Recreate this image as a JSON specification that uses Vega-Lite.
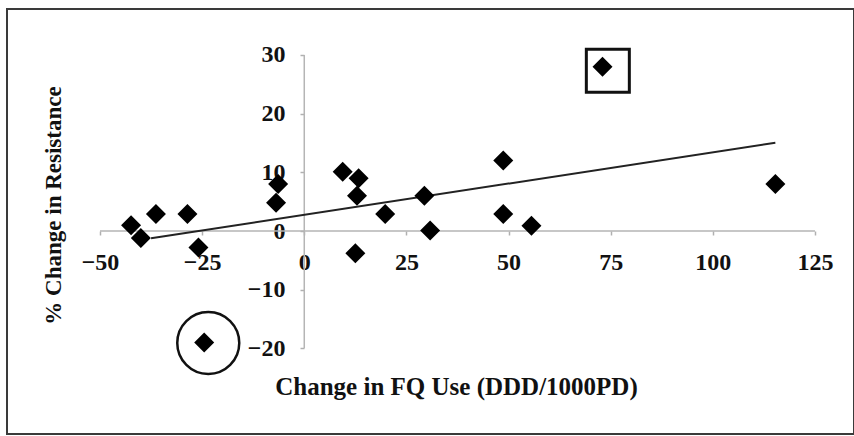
{
  "$schema": "https://vega.github.io/schema/vega-lite/v6.json",
  "width": 847,
  "height": 425,
  "autosize": "none",
  "padding": {"left": 7, "top": 9, "right": 0, "bottom": 2},
  "background": "white",
  "config": {
    "view": {"stroke": "#3a3a3a", "strokeWidth": 2},
    "axis": {
      "domain": false,
      "grid": false,
      "labelFont": "Liberation Serif",
      "labelFontWeight": "bold",
      "labelFontSize": 24,
      "labelColor": "#111111",
      "titleFont": "Liberation Serif",
      "titleFontWeight": "bold",
      "titleFontSize": 24,
      "titleColor": "#111111",
      "tickColor": "#b0b0b0",
      "tickSize": 4,
      "tickWidth": 1.5,
      "labelOverlap": false,
      "labelFlush": false
    }
  },
  "datasets": {
    "points": [
      {"x": -42.4, "y": 1.0},
      {"x": -40.0, "y": -1.2},
      {"x": -36.3, "y": 2.9},
      {"x": -28.6, "y": 2.9},
      {"x": -25.9, "y": -2.8},
      {"x": -24.5, "y": -19.0},
      {"x": -6.9, "y": 4.8},
      {"x": -6.4, "y": 8.0},
      {"x": 9.4, "y": 10.1},
      {"x": 13.3, "y": 9.0},
      {"x": 12.9, "y": 6.0},
      {"x": 12.5, "y": -3.8},
      {"x": 19.8, "y": 2.9},
      {"x": 29.4, "y": 6.0},
      {"x": 30.8, "y": 0.1},
      {"x": 48.7, "y": 12.0},
      {"x": 48.7, "y": 2.9},
      {"x": 55.6, "y": 0.9},
      {"x": 73.0, "y": 28.0},
      {"x": 115.3, "y": 8.0}
    ],
    "trend": [
      {"x": -37.5, "y": -1.25},
      {"x": 115.3, "y": 15.05}
    ],
    "axislines": [
      {"x": -50, "x2": 125, "y": 0, "y2": 0},
      {"x": 0, "x2": 0, "y": -20, "y2": 30}
    ],
    "highlights": [
      {"kind": "circle", "x": -23.5, "y": -19.1},
      {"kind": "square", "x": 74.3, "y": 27.3}
    ]
  },
  "encoding": {
    "x": {
      "field": "x",
      "type": "quantitative",
      "scale": {"domain": [-72.76, 134.55], "nice": false, "zero": false},
      "axis": {
        "offset": -203,
        "values": [-50, -25, 0, 25, 50, 75, 100, 125],
        "labelPadding": 15,
        "title": "Change in FQ Use (DDD/1000PD)",
        "titleFontSize": 25,
        "titleX": 449,
        "titleY": 155,
        "titleBaseline": "middle"
      }
    },
    "y": {
      "field": "y",
      "type": "quantitative",
      "scale": {"domain": [-34.6, 37.84], "nice": false, "zero": false},
      "axis": {
        "offset": -297,
        "values": [-20, -10, 0, 10, 20, 30],
        "labelPadding": 15,
        "title": "% Change in Resistance",
        "titleFontSize": 23,
        "titleX": -251,
        "titleY": 196,
        "titleAngle": -90,
        "titleBaseline": "middle",
        "titleAlign": "center"
      }
    }
  },
  "layer": [
    {
      "data": {"name": "axislines"},
      "mark": {"type": "rule", "color": "#b5b5b5", "strokeWidth": 1.5},
      "encoding": {
        "x2": {"field": "x2"},
        "y2": {"field": "y2"}
      }
    },
    {
      "data": {"name": "trend"},
      "mark": {"type": "line", "color": "#222222", "strokeWidth": 2}
    },
    {
      "data": {"name": "points"},
      "mark": {"type": "point", "shape": "diamond", "filled": true, "color": "#000000", "size": 400, "opacity": 1}
    },
    {
      "data": {"name": "highlights"},
      "transform": [{"filter": "datum.kind === 'circle'"}],
      "mark": {"type": "point", "shape": "circle", "filled": false, "color": "#111111", "size": 3844, "strokeWidth": 2.5, "opacity": 1}
    },
    {
      "data": {"name": "highlights"},
      "transform": [{"filter": "datum.kind === 'square'"}],
      "mark": {"type": "point", "shape": "square", "filled": false, "color": "#111111", "size": 1849, "strokeWidth": 3, "opacity": 1}
    }
  ]
}
